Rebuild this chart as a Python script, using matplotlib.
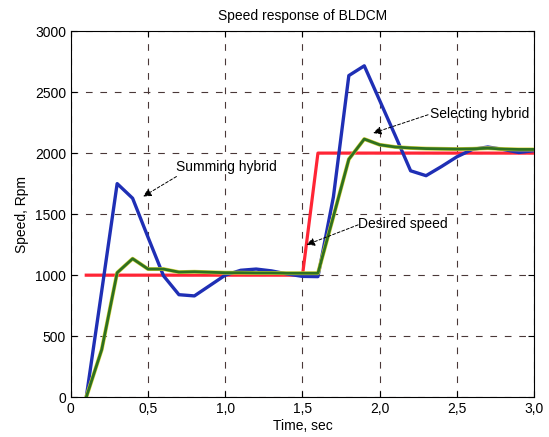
import matplotlib
matplotlib.use("Agg")
import matplotlib.pyplot as plt

plt.rcParams["font.family"] = ["Liberation Sans", "DejaVu Sans"]

# sampled time points (sec)
t = [0.1, 0.2, 0.3, 0.4, 0.5, 0.6, 0.7, 0.8, 0.9, 1.0,
     1.1, 1.2, 1.3, 1.4, 1.5, 1.6, 1.7, 1.8, 1.9, 2.0,
     2.1, 2.2, 2.3, 2.4, 2.5, 2.6, 2.7, 2.8, 2.9, 3.0]

# summing hybrid controller response (rpm)
summing = [0, 870, 1750, 1630, 1310, 995, 840, 830, 915, 1000,
           1040, 1050, 1035, 1010, 990, 988, 1640, 2635, 2715, 2430,
           2145, 1855, 1815, 1890, 1970, 2030, 2050, 2030, 2005, 2020]

# selecting hybrid controller response (rpm)
selecting = [0, 390, 1020, 1135, 1050, 1050, 1025, 1028, 1024, 1020,
             1020, 1018, 1018, 1016, 1016, 1016, 1480, 1950, 2115, 2068,
             2050, 2042, 2037, 2035, 2033, 2035, 2040, 2033, 2030, 2030]

# desired speed profile
t_ref = [0.1, 1.5, 1.6, 3.0]
desired = [1000, 1000, 2000, 2000]

xticks = [0, 0.5, 1.0, 1.5, 2.0, 2.5, 3.0]
xticklabels = ["0", "0,5", "1,0", "1,5", "2,0", "2,5", "3,0"]
yticks = [0, 500, 1000, 1500, 2000, 2500, 3000]

fig, ax = plt.subplots(figsize=(5.49, 4.37), dpi=100)
fig.subplots_adjust(left=0.129, right=0.973, bottom=0.091, top=0.929)

ax.plot(t_ref, desired, color="#ff2535", lw=2.3, zorder=3)
ax.plot(t, summing, color="#1f2fb5", lw=2.4, zorder=4)
ax.plot(t, selecting, color="#d6d43a", lw=2.8, zorder=5)
ax.plot(t, selecting, color="#2e7020", lw=2.0, zorder=6)

ax.set_xlim(0, 3.0)
ax.set_ylim(0, 3000)
ax.set_xticks(xticks)
ax.set_xticklabels(xticklabels)
ax.set_yticks(yticks)
ax.tick_params(direction="in", top=True, right=True, length=4, labelsize=10)

ax.grid(True, color="#4a3838", linestyle=(0, (6, 7)), linewidth=0.8)
ax.set_axisbelow(True)

ax.set_title("Speed response of BLDCM", fontsize=10, pad=8)
ax.set_xlabel("Time, sec", fontsize=10, labelpad=2)
ax.set_ylabel("Speed, Rpm", fontsize=10, labelpad=4)

arrow = dict(arrowstyle="-|>", color="black", lw=0.7, linestyle=(0, (3, 2)),
             mutation_scale=12, shrinkA=0, shrinkB=0)

ax.text(1.01, 1884, "Summing hybrid", fontsize=10, ha="center", va="center", zorder=8)
ax.annotate("", xy=(0.468, 1644), xytext=(0.684, 1808), arrowprops=arrow, zorder=8)

ax.text(2.648, 2322, "Selecting hybrid", fontsize=10, ha="center", va="center", zorder=8)
ax.annotate("", xy=(1.957, 2164), xytext=(2.313, 2314), arrowprops=arrow, zorder=8)

ax.text(2.15, 1420, "Desired speed", fontsize=10, ha="center", va="center", zorder=8)
ax.annotate("", xy=(1.526, 1249), xytext=(1.86, 1412), arrowprops=arrow, zorder=8)

fig.savefig("out.png", dpi=100)
